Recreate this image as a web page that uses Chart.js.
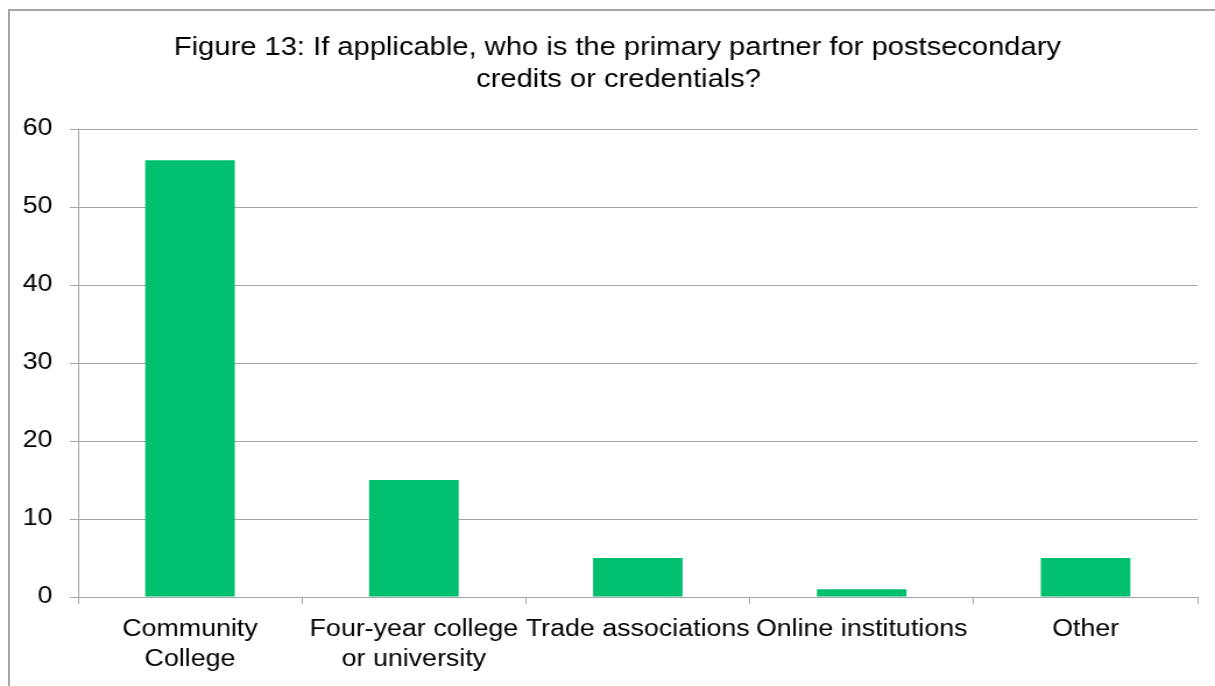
<!DOCTYPE html>
<html>
<head>
<meta charset="utf-8">
<script src="https://cdn.jsdelivr.net/npm/chart.js@4/dist/chart.umd.min.js"></script>
<style>
  html, body { margin: 0; padding: 0; background: #fff; }
  #wrap { position: relative; width: 1215px; height: 686px; overflow: hidden; }
  #frame {
    position: absolute; left: 8px; top: 9px; width: 1300px; height: 800px;
    border: 2px solid #a6a6a6; box-sizing: border-box;
  }
  /* il canvas viene disegnato più stretto e poi allargato in orizzontale */
  canvas { position: absolute; left: 0; top: 0; }
</style>
</head>
<body>
<div id="wrap">
  <div id="frame"></div>
  <canvas id="grafico" width="1043" height="686" style="width:1215px;height:686px"></canvas>
</div>
<script>
// Dati del grafico
const categorie = [
  ['Community', 'College'],
  ['Four-year college', 'or university'],
  'Trade associations',
  'Online institutions',
  'Other'
];
const valori = [56, 15, 5, 1, 5];
const titoloRighe = [
  'Figure 13: If applicable, who is the primary partner for postsecondary',
  'credits or credentials?'
];

const FONT = "'Liberation Sans', Arial, sans-serif";
const GRIGIO = '#a6a6a6';

// Titolo su due righe
const titoloPlugin = {
  id: 'titolo',
  afterDraw(chart) {
    const c = chart.ctx;
    c.save();
    c.font = '25px ' + FONT;
    c.fillStyle = '#000';
    c.textAlign = 'center';
    c.textBaseline = 'middle';
    c.fillText(titoloRighe[0], 530, 48);
    c.fillText(titoloRighe[1], 531, 80);
    c.restore();
  }
};

const ctx = document.getElementById('grafico').getContext('2d');

new Chart(ctx, {
  type: 'bar',
  data: {
    labels: categorie,
    datasets: [{
      data: valori,
      backgroundColor: '#00BF6F',
      borderWidth: 0,
      barPercentage: 0.4,
      categoryPercentage: 1
    }]
  },
  options: {
    responsive: false,
    animation: false,
    devicePixelRatio: 1,
    layout: { padding: { top: 129, right: 15, left: 0, bottom: 0 } },
    plugins: {
      legend: { display: false },
      tooltip: { enabled: false }
    },
    scales: {
      x: {
        afterFit(scale) { scale.height = 89; },
        border: { color: GRIGIO, width: 1 },
        grid: {
          offset: true,
          drawOnChartArea: false,
          drawTicks: true,
          tickLength: 7,
          color: GRIGIO
        },
        ticks: {
          autoSkip: false,
          maxRotation: 0,
          minRotation: 0,
          padding: 11,
          color: '#000',
          font: { family: FONT, size: 23, lineHeight: 1.3 }
        }
      },
      y: {
        min: 0,
        max: 60,
        afterFit(scale) { scale.width = 67; },
        border: { color: GRIGIO, width: 1 },
        grid: { color: GRIGIO, tickLength: 7 },
        ticks: {
          stepSize: 10,
          padding: 15,
          color: '#000',
          font: { family: FONT, size: 23 }
        }
      }
    }
  },
  plugins: [titoloPlugin]
});
</script>
</body>
</html>
